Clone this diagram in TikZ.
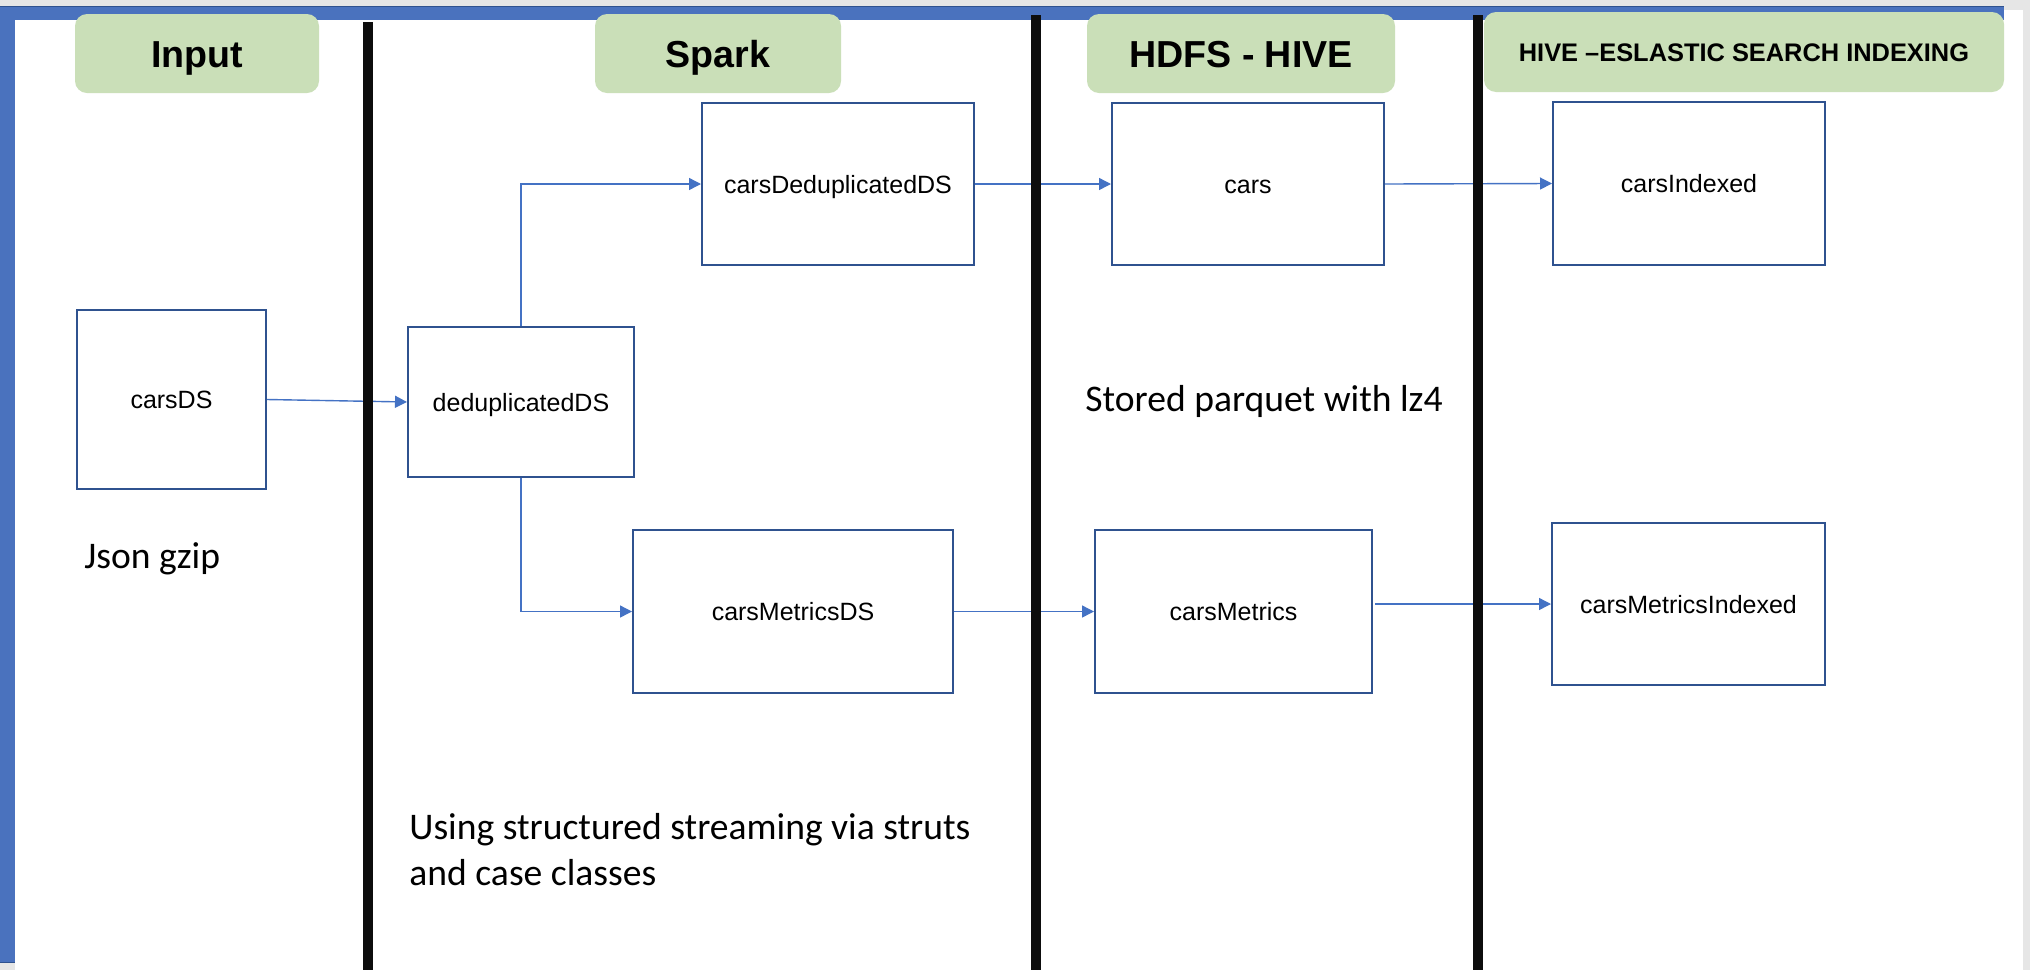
\documentclass[tikz,border=0pt]{standalone}
\usepackage{fontspec}
\setmainfont{Liberation Sans}
\newfontfamily\calfont{Carlito}
\usetikzlibrary{arrows.meta}
\definecolor{frameblue}{HTML}{4A72BE}
\definecolor{boxblue}{HTML}{2F528F}
\definecolor{arrblue}{HTML}{4472C4}
\definecolor{hdrgreen}{HTML}{CADFB8}
\definecolor{bargray}{HTML}{E6E6E6}
\definecolor{divblack}{HTML}{0D0D0D}
\begin{document}
\begin{tikzpicture}[x=0.5pt,y=-0.5pt,
  hdr/.style={fill=hdrgreen, rounded corners=6pt, inner sep=0pt, text=black, text height=13.5pt, text depth=0pt, font=\bfseries\fontsize{18.8}{22}\selectfont},
  ds/.style={draw=boxblue, line width=1pt, fill=white, inner sep=0pt, text height=9pt, text depth=0pt, font=\fontsize{12.5}{15}\selectfont},
  flow/.style={draw=arrblue, line width=0.7pt, -{Triangle[length=6pt,width=6pt]}},
  note/.style={font=\calfont\fontsize{18.8}{23}\selectfont, inner sep=0pt, anchor=base west},
  divider/.style={fill=divblack}]
\useasboundingbox (0,0) rectangle (2030,970);
% frame
\fill[bargray] (0,0) rectangle (2030,970);
\fill[white] (15,10) rectangle (2023,970);
\fill[frameblue] (0,6) rectangle (2004,20);
\fill[frameblue] (0,6) rectangle (15,962);
\draw[boxblue, line width=0.6pt] (0,6.5) -- (2004,6.5);
\draw[boxblue, line width=0.6pt] (0,962.5) -- (15,962.5);
% headers
\node[hdr, minimum width=122pt, minimum height=39.5pt] (hInput) at (197,53.5) {Input};
\node[hdr, minimum width=123pt, minimum height=39.5pt] (hSpark) at (718,53.5) {Spark};
\node[hdr, minimum width=154pt, minimum height=39.5pt] (hHdfs) at (1241,53.5) {HDFS - HIVE};
\node[hdr, minimum width=260pt, minimum height=40pt, text height=9.1pt, font=\bfseries\fontsize{12.7}{15}\selectfont] (hHive) at (1744,52) {HIVE –ESLASTIC SEARCH INDEXING};
% boxes
\node[ds, minimum width=94.5pt, minimum height=89.5pt] (carsDS) at (171.5,399.5) {carsDS};
\node[ds, minimum width=113pt, minimum height=75pt] (dedup) at (521,402) {deduplicatedDS};
\node[ds, minimum width=136pt, minimum height=81pt] (cdd) at (838,184) {carsDeduplicatedDS};
\node[ds, minimum width=136pt, minimum height=81pt] (cars) at (1248,184) {cars};
\node[ds, minimum width=136pt, minimum height=81.5pt] (ci) at (1689,183.5) {carsIndexed};
\node[ds, minimum width=160pt, minimum height=81.5pt] (cmds) at (793,611.5) {carsMetricsDS};
\node[ds, minimum width=138.5pt, minimum height=81.5pt] (cm) at (1233.5,611.5) {carsMetrics};
\node[ds, minimum width=136.5pt, minimum height=81pt] (cmi) at (1688.5,604) {carsMetricsIndexed};
% connectors
\coordinate (cmout) at (1375,604);
\draw[flow] (carsDS.east) -- (dedup.west);
\draw[flow] (dedup.north) |- (cdd.west);
\draw[flow] (dedup.south) |- (cmds.west);
\draw[flow] (cdd.east) -- (cars.west);
\draw[flow] (cars.east) -- (ci.west);
\draw[flow] (cmds.east) -- (cm.west);
\draw[flow] (cmout) -- (cmi.west);
% dividers
\fill[divider] (363,22) rectangle (373,970);
\fill[divider] (1031,15) rectangle (1041,970);
\fill[divider] (1473,15) rectangle (1483,970);
% notes
\node[note] (n1) at (84,568) {Json gzip};
\node[note] (n2) at (1085,411) {Stored parquet with lz4};
\node[note] (n3) at (409,839) {Using structured streaming via struts};
\node[note] (n4) at (409,885) {and case classes};
\end{tikzpicture}
\end{document}
